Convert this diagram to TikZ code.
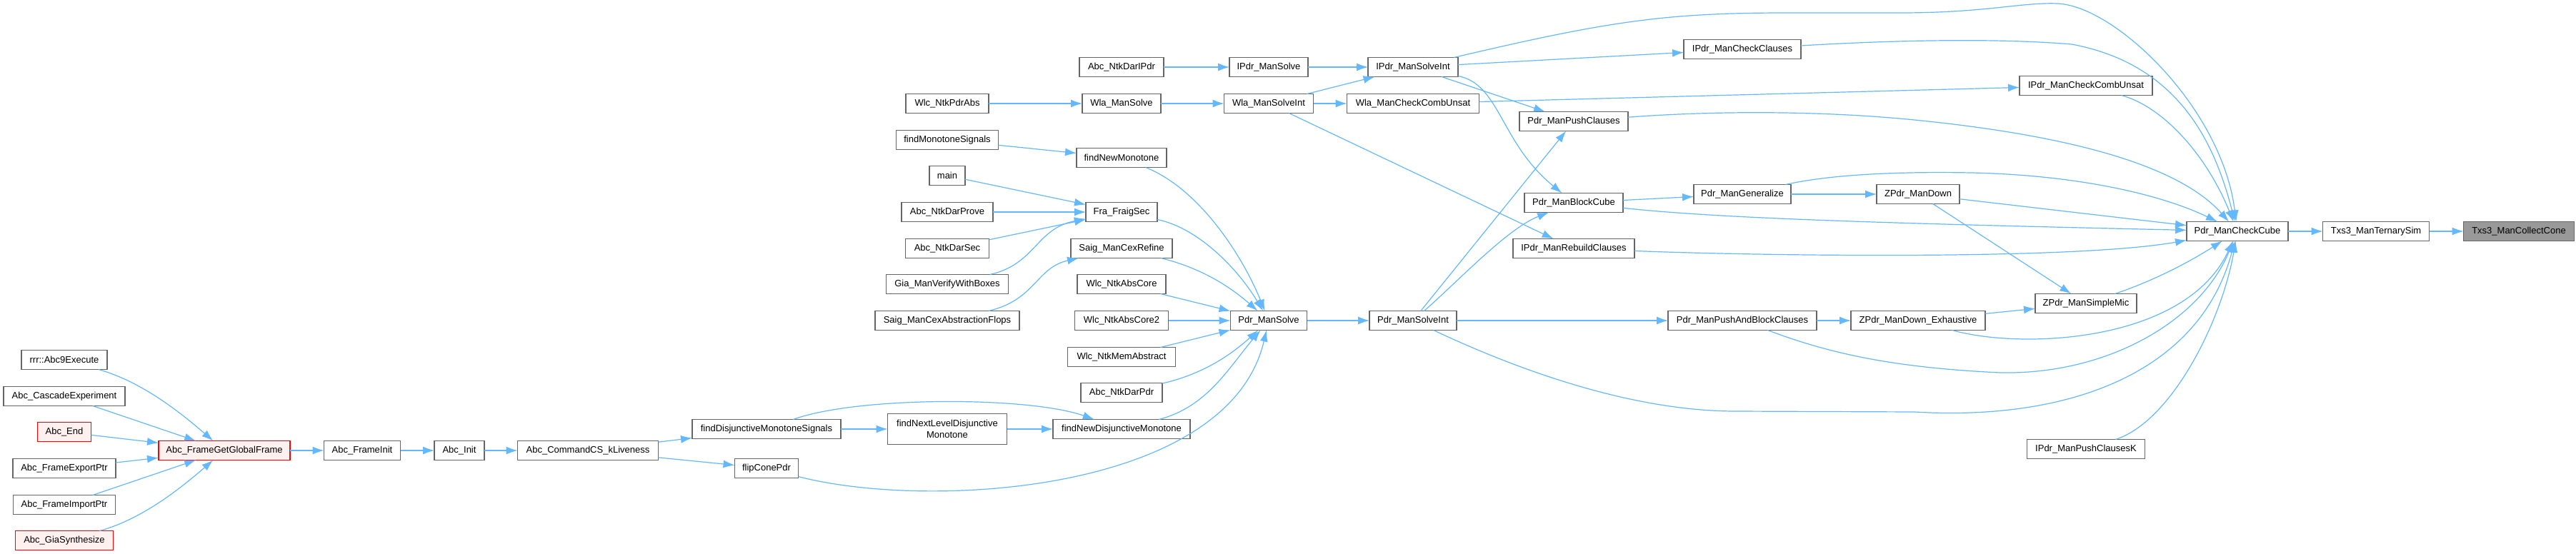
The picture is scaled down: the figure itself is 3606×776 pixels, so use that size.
\documentclass[tikz,border=0pt]{standalone}
\usepackage{fontspec}
\setmainfont{Liberation Sans}
\usetikzlibrary{arrows.meta}
\definecolor{edgeblue}{HTML}{63B8FF}
\definecolor{nodegray}{HTML}{666666}
\definecolor{redfill}{HTML}{FFF0F0}
\definecolor{selfill}{HTML}{999999}
\begin{document}
\begin{tikzpicture}[x=1pt,y=-1pt,
 box/.style={draw=nodegray, fill=white, line width=1.3pt, minimum height=27pt, inner sep=0pt, outer sep=0pt, font=\fontsize{13}{16}\selectfont, text=black},
 redbox/.style={box, draw=red, fill=redfill},
 selbox/.style={box, fill=selfill},
 edge/.style={draw=edgeblue, line width=1.2pt, -{Latex[length=16pt,width=11pt]}}
]
\useasboundingbox[fill=white] (0,0) rectangle (3606,776);
% nodes
\node[box, minimum width=120pt] (rrr) at (90,504) {rrr::Abc9Execute};
\node[box, minimum width=170pt] (casc) at (90,555) {Abc\_CascadeExperiment};
\node[redbox, minimum width=75pt] (aend) at (90,605) {Abc\_End};
\node[box, minimum width=144pt] (fexp) at (90,656) {Abc\_FrameExportPtr};
\node[box, minimum width=143pt] (fimp) at (90,707) {Abc\_FrameImportPtr};
\node[redbox, minimum width=137pt] (giasyn) at (90,757) {Abc\_GiaSynthesize};
\node[redbox, minimum width=184pt] (fggf) at (314,631) {Abc\_FrameGetGlobalFrame};
\node[box, minimum width=107pt] (finit) at (507,631) {Abc\_FrameInit};
\node[box, minimum width=70pt] (ainit) at (643,631) {Abc\_Init};
\node[box, minimum width=197pt] (csk) at (823,631) {Abc\_CommandCS\_kLiveness};
\node[box, minimum width=208pt] (fdms) at (1073,601) {findDisjunctiveMonotoneSignals};
\node[box, minimum width=89pt] (flip) at (1073,656) {flipConePdr};
\node[box, minimum width=116pt] (wpabs) at (1326,145) {Wlc\_NtkPdrAbs};
\node[box, minimum width=143pt] (fms) at (1326,196) {findMonotoneSignals};
\node[box, minimum width=50pt] (mainn) at (1326,246) {main};
\node[box, minimum width=128pt] (dprove) at (1326,297) {Abc\_NtkDarProve};
\node[box, minimum width=117pt] (dsec) at (1326,348) {Abc\_NtkDarSec};
\node[box, minimum width=171pt] (gvwb) at (1326,398) {Gia\_ManVerifyWithBoxes};
\node[box, minimum width=202pt] (scaf) at (1326,449) {Saig\_ManCexAbstractionFlops};
\node[box, minimum width=167pt, minimum height=43pt, align=center] (fnldm) at (1326,601) {findNextLevelDisjunctive\\Monotone};
\node[box, minimum width=118pt] (dipdr) at (1570,94) {Abc\_NtkDarIPdr};
\node[box, minimum width=110pt] (wsolve) at (1570,145) {Wla\_ManSolve};
\node[box, minimum width=126pt] (fnm) at (1570,221) {findNewMonotone};
\node[box, minimum width=100pt] (fraig) at (1570,297) {Fra\_FraigSec};
\node[box, minimum width=142pt] (scr) at (1570,348) {Saig\_ManCexRefine};
\node[box, minimum width=124pt] (wac) at (1570,398) {Wlc\_NtkAbsCore};
\node[box, minimum width=131pt] (wac2) at (1570,449) {Wlc\_NtkAbsCore2};
\node[box, minimum width=151pt] (wma) at (1570,500) {Wlc\_NtkMemAbstract};
\node[box, minimum width=114pt] (dpdr) at (1570,550) {Abc\_NtkDarPdr};
\node[box, minimum width=192pt] (fndm) at (1570,601) {findNewDisjunctiveMonotone};
\node[box, minimum width=110pt] (ipsolve) at (1776,94) {IPdr\_ManSolve};
\node[box, minimum width=125pt] (wsi) at (1776,145) {Wla\_ManSolveInt};
\node[box, minimum width=107pt] (psolve) at (1776,449) {Pdr\_ManSolve};
\node[box, minimum width=126pt] (ipsi) at (1978,94) {IPdr\_ManSolveInt};
\node[box, minimum width=185pt] (wccu) at (1978,145) {Wla\_ManCheckCombUnsat};
\node[box, minimum width=122pt] (psi) at (1978,449) {Pdr\_ManSolveInt};
\node[box, minimum width=152pt] (pushcl) at (2203,170) {Pdr\_ManPushClauses};
\node[box, minimum width=138pt] (block) at (2203,284) {Pdr\_ManBlockCube};
\node[box, minimum width=170pt] (rebuild) at (2203,348) {IPdr\_ManRebuildClauses};
\node[box, minimum width=164pt] (checkcl) at (2439,69) {IPdr\_ManCheckClauses};
\node[box, minimum width=136pt] (gen) at (2439,272) {Pdr\_ManGeneralize};
\node[box, minimum width=208pt] (pabc) at (2439,449) {Pdr\_ManPushAndBlockClauses};
\node[box, minimum width=116pt] (zdown) at (2685,272) {ZPdr\_ManDown};
\node[box, minimum width=188pt] (zdex) at (2685,449) {ZPdr\_ManDown\_Exhaustive};
\node[box, minimum width=186pt] (iccu) at (2920,120) {IPdr\_ManCheckCombUnsat};
\node[box, minimum width=142pt] (zsm) at (2920,425) {ZPdr\_ManSimpleMic};
\node[box, minimum width=165pt] (ipck) at (2920,629) {IPdr\_ManPushClausesK};
\node[box, minimum width=142pt] (check) at (3132,324) {Pdr\_ManCheckCube};
\node[box, minimum width=149pt] (tern) at (3326,324) {Txs3\_ManTernarySim};
\node[selbox, minimum width=155pt] (coll) at (3526,324) {Txs3\_ManCollectCone};
% edges into Abc_FrameGetGlobalFrame
\draw[edge] (rrr) .. controls (200,535) and (255,580) .. (fggf);
\draw[edge] (casc) -- (fggf);
\draw[edge] (aend) -- (fggf);
\draw[edge] (fexp) -- (fggf);
\draw[edge] (fimp) -- (fggf);
\draw[edge] (giasyn) .. controls (200,727) and (255,682) .. (fggf);
\draw[edge] (fggf) -- (finit);
\draw[edge] (finit) -- (ainit);
\draw[edge] (ainit) -- (csk);
\draw[edge] (csk) -- (fdms);
\draw[edge] (csk) -- (flip);
\draw[edge] (fdms) -- (fnldm);
\draw[edge] (fdms) .. controls (1200,555) and (1440,555) .. (fndm);
\draw[edge] (fnldm) -- (fndm);
\draw[edge] (flip) .. controls (1300,715) and (1720,690) .. (psolve);
% into Pdr_ManSolve
\draw[edge] (fndm) .. controls (1690,570) and (1720,515) .. (psolve);
\draw[edge] (dpdr) .. controls (1680,525) and (1720,500) .. (psolve);
\draw[edge] (wma) -- (psolve);
\draw[edge] (wac2) -- (psolve);
\draw[edge] (wac) -- (psolve);
\draw[edge] (scr) .. controls (1680,375) and (1720,400) .. (psolve);
\draw[edge] (fraig) .. controls (1680,320) and (1735,380) .. (psolve);
\draw[edge] (fnm) .. controls (1680,265) and (1740,360) .. (psolve);
\draw[edge] (fms) -- (fnm);
\draw[edge] (mainn) -- (fraig);
\draw[edge] (dprove) -- (fraig);
\draw[edge] (dsec) -- (fraig);
\draw[edge] (gvwb) .. controls (1450,370) and (1450,320) .. (fraig);
\draw[edge] (scaf) .. controls (1450,420) and (1450,375) .. (scr);
\draw[edge] (wpabs) -- (wsolve);
\draw[edge] (wsolve) -- (wsi);
\draw[edge] (dipdr) -- (ipsolve);
\draw[edge] (ipsolve) -- (ipsi);
\draw[edge] (wsi) -- (ipsi);
\draw[edge] (wsi) -- (wccu);
\draw[edge] (wsi) -- (rebuild);
\draw[edge] (psolve) -- (psi);
\draw[edge] (ipsi) -- (checkcl);
\draw[edge] (ipsi) -- (pushcl);
\draw[edge] (ipsi) .. controls (2100,118) and (2100,200) .. (block);
\draw[edge] (wccu) -- (iccu);
\draw[edge] (psi) -- (pushcl);
\draw[edge] (psi) .. controls (2040,395) and (2110,320) .. (block);
\draw[edge] (psi) -- (pabc);
\draw[edge] (block) -- (gen);
\draw[edge] (gen) -- (zdown);
\draw[edge] (pabc) -- (zdex);
\draw[edge] (zdown) -- (zsm);
\draw[edge] (zdex) -- (zsm);
% into Pdr_ManCheckCube
\draw[edge] (ipsi) .. controls (2250,30) and (2330,18) .. (2500,18) -- (2660,18) .. controls (2780,18) and (2830,3) .. (2880,5) .. controls (2960,8) and (3110,150) .. (check);
\draw[edge] (checkcl) .. controls (2620,58) and (2780,52) .. (2900,62) .. controls (3050,90) and (3100,200) .. (check);
\draw[edge] (iccu) .. controls (3030,150) and (3090,220) .. (check);
\draw[edge] (pushcl) .. controls (2400,155) and (2550,155) .. (2680,168) .. controls (2850,185) and (3040,220) .. (check);
\draw[edge] (gen) .. controls (2560,245) and (2650,240) .. (2760,242) .. controls (2900,245) and (3020,270) .. (check);
\draw[edge] (zdown) -- (check);
\draw[edge] (block) .. controls (2400,305) and (2600,312) .. (check);
\draw[edge] (rebuild) .. controls (2450,358) and (2900,365) .. (check);
\draw[edge] (zsm) .. controls (3010,395) and (3060,370) .. (check);
\draw[edge] (zdex) .. controls (2830,490) and (3060,480) .. (check);
\draw[edge] (pabc) .. controls (2560,495) and (2650,515) .. (2800,522) .. controls (2950,525) and (3080,450) .. (check);
\draw[edge] (psi) .. controls (2150,530) and (2300,576) .. (2430,576) -- (2680,577) .. controls (2900,590) and (3080,520) .. (check);
\draw[edge] (ipck) .. controls (3040,590) and (3110,450) .. (check);
\draw[edge] (check) -- (tern);
\draw[edge] (tern) -- (coll);
\end{tikzpicture}
\end{document}
